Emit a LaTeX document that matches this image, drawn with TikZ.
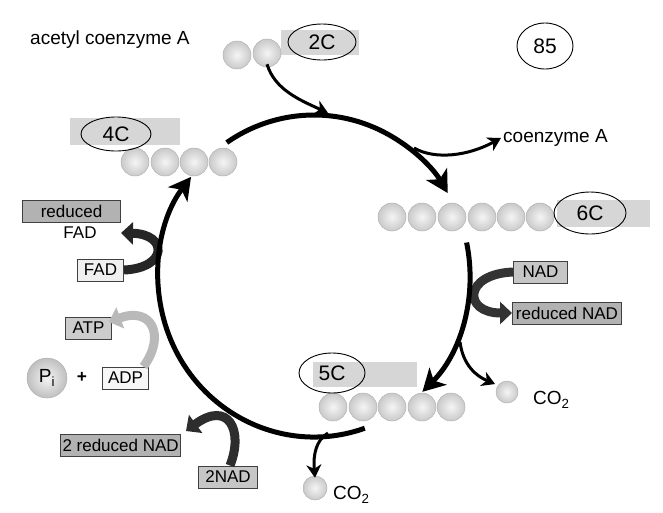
\documentclass[tikz,border=0pt]{standalone}
\usepackage{fontspec}
\setmainfont{Liberation Sans}
\usetikzlibrary{arrows.meta,shapes.geometric}
\begin{document}
\begin{tikzpicture}[x=1pt,y=-1pt,
  cyc/.style={line width=5pt,line cap=butt,-{Stealth[length=22pt,width=24pt,inset=6pt]}},
  branch/.style={line width=3pt,-{Stealth[length=13pt,width=15pt,inset=4pt]}},
  garr/.style={line width=9pt,-{Triangle[length=12pt,width=22pt]}},
  sph/.style={circle,minimum size=28pt,inner sep=0pt,shading=radial,inner color=gray!8,outer color=gray!42,draw=gray!60,line width=0.5pt},
  gband/.style={fill=gray!32,draw=none,minimum height=25pt,inner sep=0pt},
  oval/.style={ellipse,draw=black,line width=0.9pt,inner sep=0pt,font=\fontsize{21}{21}\selectfont},
  lbl/.style={font=\fontsize{19}{19}\selectfont,inner sep=0pt},
  bx/.style={draw=black!75,line width=1pt,inner sep=2pt,minimum height=22pt,font=\fontsize{17}{17}\selectfont},
  ]
\useasboundingbox (0,0) rectangle (663,512);
\coordinate (cc) at (314,276);

% ---- gray bands behind carbon labels
\node[gband,minimum width=78pt] (g2) at (320,42) {};
\node[gband,minimum width=110pt,minimum height=27pt] (g4) at (125,131) {};
\node[gband,minimum width=93pt,minimum height=27pt] (g6) at (603,213) {};
\node[gband,minimum width=104pt] (g5) at (365,374) {};

% ---- spheres
\node[sph] (a1) at (237,55) {};
\node[sph] (a2) at (267,53) {};
\foreach \i/\x in {1/135,2/165,3/194,4/223}{\node[sph] (f\i) at (\x,162) {};}
\foreach \i/\x in {1/392,2/422,3/452,4/482,5/511,6/540}{\node[sph] (h\i) at (\x,217) {};}
\foreach \i/\x in {1/333,2/363,3/392,4/422,5/451}{\node[sph] (p\i) at (\x,407) {};}
\node[sph,minimum size=22pt] (co1) at (507,392) {};
\node[sph,minimum size=24pt] (co2) at (315,488) {};
\node[sph,minimum size=40pt,outer color=gray!50,font=\fontsize{19}{19}\selectfont] (pi) at (47,378) {P\textsubscript{i}};

% ---- circled numbers
\node[oval,minimum width=68pt,minimum height=36pt] (c2) at (322,42) {2C};
\node[oval,minimum width=56pt,minimum height=46pt] (n85) at (545,46) {85};
\node[oval,minimum width=70pt,minimum height=34pt] (c4) at (116,134) {4C};
\node[oval,minimum width=72pt,minimum height=42pt] (c6) at (590,213) {6C};
\node[oval,minimum width=66pt,minimum height=40pt] (c5) at (332,373) {5C};

% ---- free text
\node[lbl,anchor=west] (acoa) at (30,40) {acetyl coenzyme A};
\node[lbl,anchor=west] (coa) at (503,138) {coenzyme A};
\node[lbl,anchor=west] (co1t) at (533,400) {CO\textsubscript{2}};
\node[lbl,anchor=west] (co2t) at (333,495) {CO\textsubscript{2}};
\node[font=\bfseries\LARGE,inner sep=0pt] (plus) at (82,377) {+};

% ---- boxes
\node[bx,fill=gray!60,minimum width=98pt,anchor=west] (rfad) at (22,211) {reduced};
\node[font=\fontsize{17}{17}\selectfont,inner sep=0pt] (rfad2) at (80,233) {FAD};
\node[bx,fill=gray!12,minimum width=46pt,anchor=west] (fad) at (77,270) {FAD};
\node[bx,fill=gray!40,minimum width=46pt,anchor=west] (atp) at (65,328) {ATP};
\node[bx,fill=gray!6,minimum width=46pt,anchor=west] (adp) at (102,378) {ADP};
\node[bx,fill=gray!60,minimum width=118pt,anchor=west] (r2nad) at (60,445) {2 reduced NAD};
\node[bx,fill=gray!45,minimum width=59pt,anchor=west] (nad2) at (198,477) {2NAD};
\node[bx,fill=gray!45,minimum width=54pt,anchor=west] (nad) at (513,272) {NAD};
\node[bx,fill=gray!60,minimum width=109pt,anchor=west] (rnad) at (512,313) {reduced NAD};

% ---- gray curved arrows
\coordinate (fadtip) at (121,233);
\coordinate (atptip) at (109,322);
\coordinate (nadtip) at (186,431);
\draw[garr,draw=gray!30!black] (fad.east) .. controls (168,268) and (168,234) .. (fadtip);
\draw[garr,draw=gray!55] ([xshift=18pt]adp.north) .. controls (166,336) and (152,306) .. (atptip);
\draw[garr,draw=gray!40!black] (nad.west) .. controls (463,274) and (463,313) .. (rnad.west);
\draw[garr,draw=gray!35!black] ([xshift=2pt]nad2.north) .. controls (244,430) and (228,400) .. (nadtip);

% ---- main cycle
\draw[cyc] ([shift={(-124:156 and 161)}]cc) arc[start angle=-124,end angle=-31,x radius=156,y radius=161];
\draw[cyc] ([shift={(-12:156 and 161)}]cc) arc[start angle=-12,end angle=46,x radius=156,y radius=161];
\draw[cyc] ([shift={(71:156 and 161)}]cc) arc[start angle=71,end angle=218,x radius=156,y radius=161];

% ---- thin black branches
\coordinate (topin) at (328,113);
\coordinate (coaout) at (414,148);
\coordinate (co1out) at (460,342);
\coordinate (co2out) at (328,433);
\draw[branch] ([yshift=3pt]a2.south) .. controls (275,90) and (300,100) .. (topin);
\draw[branch] (coaout) .. controls (435,160) and (468,156) .. ([xshift=-2pt]coa.west);
\draw[branch] (co1out) .. controls (463,365) and (476,376) .. ([xshift=-4pt]co1.north west);
\draw[branch] (co2out) .. controls (316,440) and (313,455) .. ([yshift=-2pt]co2.north);
\end{tikzpicture}
\end{document}
